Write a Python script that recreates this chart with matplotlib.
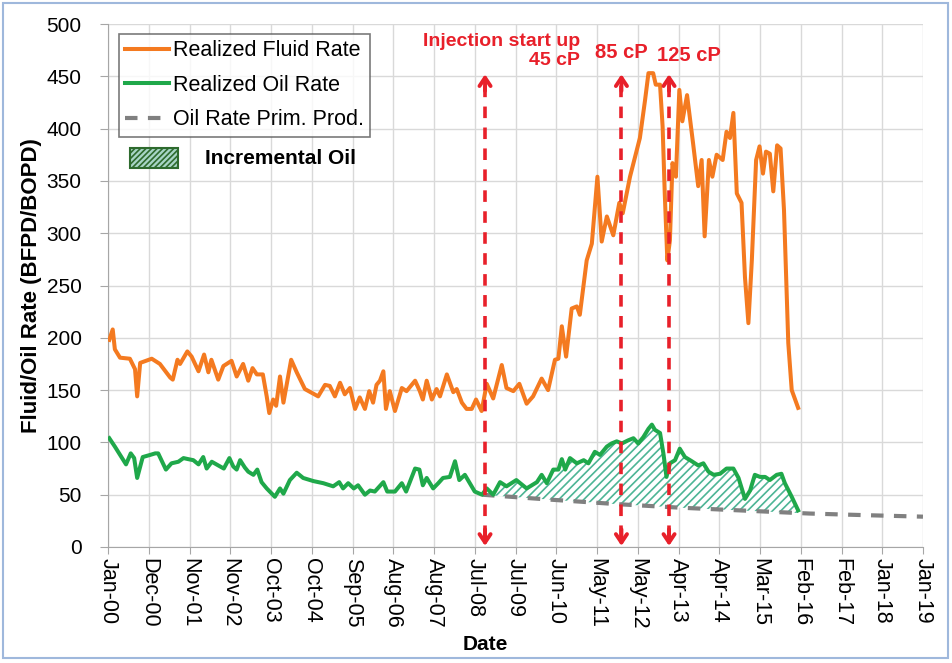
import datetime as dt

import numpy as np
import matplotlib

matplotlib.use("Agg")
import matplotlib.pyplot as plt
import matplotlib.dates as mdates
import matplotlib.patches as mpatches
from matplotlib.lines import Line2D

plt.rcParams["font.family"] = ["Liberation Sans", "DejaVu Sans"]
plt.rcParams["hatch.linewidth"] = 1.2

# decimal years / rates
fluid_t = [2000.03, 2000.11, 2000.16, 2000.28, 2000.51, 2000.63, 2000.68, 2000.75, 2001.02, 2001.21,
           2001.45, 2001.51, 2001.62, 2001.68, 2001.85, 2001.95, 2002.11, 2002.24, 2002.34, 2002.41,
           2002.57, 2002.69, 2002.88, 2003.00, 2003.15, 2003.27, 2003.37, 2003.47, 2003.61, 2003.70,
           2003.76, 2003.85, 2003.92, 2004.01, 2004.09, 2004.27, 2004.40, 2004.59, 2004.90, 2005.06,
           2005.17, 2005.29, 2005.41, 2005.52, 2005.64, 2005.76, 2005.87, 2005.99, 2006.09, 2006.18,
           2006.26, 2006.34, 2006.42, 2006.48, 2006.57, 2006.69, 2006.85, 2006.96, 2007.16, 2007.27,
           2007.34, 2007.43, 2007.55, 2007.66, 2007.74, 2007.90, 2008.05, 2008.13, 2008.25, 2008.36,
           2008.48, 2008.58, 2008.71, 2008.83, 2008.98, 2009.18, 2009.29, 2009.45, 2009.59, 2009.76,
           2009.91, 2010.11, 2010.26, 2010.42, 2010.50, 2010.58, 2010.68, 2010.81, 2010.93, 2011.00,
           2011.16, 2011.28, 2011.41, 2011.51, 2011.63, 2011.78, 2011.92, 2012.00, 2012.17, 2012.40,
           2012.52, 2012.60, 2012.71, 2012.77, 2012.87, 2012.93, 2012.98, 2013.04, 2013.10, 2013.16,
           2013.24, 2013.32, 2013.39, 2013.50, 2013.64, 2013.76, 2013.84, 2013.91, 2014.01, 2014.09,
           2014.19, 2014.33, 2014.42, 2014.50, 2014.58, 2014.66, 2014.77, 2014.85, 2014.93, 2015.01,
           2015.11, 2015.19, 2015.27, 2015.34, 2015.43, 2015.51, 2015.60, 2015.68, 2015.76, 2015.86,
           2015.94, 2016.09]
fluid_q = [198, 208, 189, 181, 180, 170, 144, 176, 180, 175,
           162, 160, 179, 175, 187, 182, 168, 184, 167, 179,
           160, 173, 178, 163, 175, 159, 171, 165, 165, 144,
           128, 141, 135, 163, 138, 179, 167, 151, 144, 155,
           154, 144, 157, 146, 152, 132, 143, 132, 149, 138,
           155, 159, 168, 132, 149, 130, 152, 149, 159, 149,
           141, 159, 141, 151, 144, 165, 148, 151, 138, 132,
           132, 141, 130, 156, 142, 174, 152, 149, 156, 137,
           144, 161, 150, 179, 180, 211, 182, 228, 230, 222,
           274, 290, 354, 292, 316, 298, 329, 319, 354, 391,
           427, 453, 453, 442, 442, 402, 338, 274, 293, 367,
           354, 437, 407, 432, 386, 345, 370, 297, 370, 354,
           375, 370, 397, 391, 415, 338, 329, 258, 214, 274,
           370, 383, 357, 378, 376, 340, 384, 381, 322, 195,
           150, 133]

oil_t = [2000.03, 2000.16, 2000.42, 2000.53, 2000.61, 2000.68, 2000.81, 2000.98, 2001.10, 2001.17,
         2001.35, 2001.48, 2001.64, 2001.76, 2001.87, 2001.99, 2002.11, 2002.22, 2002.30, 2002.42,
         2002.57, 2002.70, 2002.83, 2002.92, 2003.00, 2003.08, 2003.19, 2003.27, 2003.39, 2003.48,
         2003.58, 2003.70, 2003.89, 2004.01, 2004.09, 2004.24, 2004.40, 2004.55, 2004.79, 2005.02,
         2005.25, 2005.39, 2005.48, 2005.60, 2005.73, 2005.83, 2005.99, 2006.11, 2006.22, 2006.42,
         2006.51, 2006.69, 2006.85, 2006.95, 2007.16, 2007.26, 2007.34, 2007.43, 2007.58, 2007.70,
         2007.81, 2007.97, 2008.09, 2008.19, 2008.32, 2008.55, 2008.72, 2008.83, 2008.98, 2009.14,
         2009.29, 2009.52, 2009.76, 2010.00, 2010.11, 2010.23, 2010.38, 2010.50, 2010.58, 2010.66,
         2010.77, 2010.93, 2011.09, 2011.20, 2011.35, 2011.47, 2011.63, 2011.74, 2011.86, 2011.98,
         2012.13, 2012.25, 2012.36, 2012.48, 2012.60, 2012.68, 2012.75, 2012.87, 2012.95, 2013.02,
         2013.10, 2013.22, 2013.33, 2013.45, 2013.61, 2013.76, 2013.88, 2014.00, 2014.12, 2014.27,
         2014.42, 2014.58, 2014.70, 2014.85, 2014.97, 2015.08, 2015.20, 2015.32, 2015.43, 2015.59,
         2015.70, 2015.78, 2015.94, 2016.09]
oil_q = [104, 96, 79, 89.5, 85, 66, 86, 88, 89.5, 89.5,
         74, 80, 81.5, 85, 84, 83, 79, 86, 75, 81.5,
         78, 75, 85, 77, 74, 83, 76, 72, 69, 74,
         62, 56, 48, 56, 51, 64, 71, 66, 63, 61,
         58, 62, 56, 61, 56, 59, 50, 54, 53, 62,
         53, 53, 61, 53, 75, 74, 59, 66, 56, 61,
         66, 67, 82, 64, 69, 53, 50, 56, 50, 62,
         58, 64, 56, 62, 69, 61, 74, 74, 84, 74,
         85, 80, 83, 80, 91, 88, 96, 99, 101, 99,
         102, 104, 99, 105, 113, 117, 112, 109, 89, 67,
         80, 83, 94, 86, 82, 78, 80, 72, 69, 70,
         75, 75, 66, 46, 54, 69, 67, 67, 64, 69,
         70, 61, 48, 35]

prim_t = [2008.72, 2010.23, 2011.86, 2013.33, 2014.89, 2016.35, 2017.60, 2019.00]
prim_q = [50, 45.5, 41, 37.6, 34.7, 32, 30.5, 29]

event_t = [2008.79, 2011.97, 2013.08]
injection_start = 2008.72

n_ticks = 21
tick_step = 347  # days between Excel date ticks

RED = "#e8202a"
ORANGE = "#f47a20"
GREEN = "#1fa84a"
GRAY = "#808080"
HATCH = "#4db595"


def to_num(years):
    base = mdates.date2num(dt.datetime(2000, 1, 1))
    return base + (np.asarray(years, dtype=float) - 2000.0) * 365.25


fig = plt.figure(figsize=(9.52, 6.63), dpi=100)
ax = fig.add_axes([108 / 952, 1 - 547 / 663, 815 / 952, 523 / 663])

fx = to_num(fluid_t)
ox = to_num(oil_t)
px = to_num(prim_t)
oq = np.asarray(oil_q, dtype=float)

# incremental oil between realized oil and primary decline
mask = np.asarray(oil_t) >= injection_start
base_line = np.interp(ox[mask], px, prim_q)
ax.fill_between(ox[mask], base_line, oq[mask], where=oq[mask] >= base_line,
                interpolate=True, facecolor="white", edgecolor=HATCH, hatch="////",
                linewidth=0, zorder=2)

ax.plot(fx, fluid_q, color=ORANGE, lw=2.9, zorder=4, solid_joinstyle="round")
ax.plot(ox, oil_q, color=GREEN, lw=2.9, zorder=4, solid_joinstyle="round")
ax.plot(px, prim_q, color=GRAY, lw=3, ls=(0, (3, 2.5)), zorder=3)

# event arrows
for t in to_num(event_t):
    ax.plot([t, t], [10, 442], color=RED, lw=2.6, ls=(0, (3.2, 2.6)), zorder=5)
    ax.annotate("", xy=(t, 452), xytext=(t, 436),
                arrowprops=dict(arrowstyle="->,head_width=0.4,head_length=0.6",
                                color=RED, lw=2.8, shrinkA=0, shrinkB=0), zorder=5)
    ax.annotate("", xy=(t, 1), xytext=(t, 17),
                arrowprops=dict(arrowstyle="->,head_width=0.4,head_length=0.6",
                                color=RED, lw=2.8, shrinkA=0, shrinkB=0), zorder=5)

ax.text(to_num(2011.0), 474, "Injection start up\n45 cP", ha="right", va="center",
        ma="right", color=RED, fontsize=14, fontweight="bold", linespacing=1.15)
ax.text(to_num(2011.98), 473, "85 cP", ha="center", va="center", color=RED,
        fontsize=14.5, fontweight="bold")
ax.text(to_num(2013.54), 470, "125 cP", ha="center", va="center", color=RED,
        fontsize=14.5, fontweight="bold")

# axes
x0 = to_num(2000.0)
ticks = x0 + tick_step * np.arange(n_ticks)
ax.set_xlim(ticks[0], ticks[-1])
ax.set_ylim(0, 500)
ax.set_xticks(ticks)
ax.xaxis.set_major_formatter(mdates.DateFormatter("%b-%y"))
ax.set_yticks(np.arange(0, 501, 50))
ax.tick_params(axis="x", labelsize=15.5, rotation=-90, length=5, color="#a6a6a6", pad=3)
ax.tick_params(axis="y", labelsize=15, length=6, color="#a6a6a6", pad=13)
for lab in ax.get_xticklabels():
    lab.set_va("top")
    lab.set_ha("center")
ax.grid(color="#d9d9d9", lw=1)
ax.set_axisbelow(True)
for side in ("top", "right"):
    ax.spines[side].set_visible(False)
for side in ("left", "bottom"):
    ax.spines[side].set_color("#a6a6a6")

ax.set_ylabel("Fluid/Oil Rate (BFPD/BOPD)", fontsize=16, fontweight="bold")
ax.yaxis.set_label_coords(-(108 - 42) / 815, 0.5)
ax.set_xlabel("Date", fontsize=15, fontweight="bold")
ax.xaxis.set_label_coords((485 - 108) / 815, -(635 - 547) / 523)

handles = [
    Line2D([], [], color=ORANGE, lw=2.9),
    Line2D([], [], color=GREEN, lw=2.9),
    Line2D([], [], color=GRAY, lw=3, ls=(0, (3, 2.5))),
]
labels = ["Realized Fluid Rate", "Realized Oil Rate", "Oil Rate Prim. Prod."]
leg = ax.legend(handles, labels, loc="upper left", bbox_to_anchor=(119 / 952, 1 - 34 / 663),
                bbox_transform=fig.transFigure, fontsize=15.5, frameon=True, fancybox=False,
                edgecolor="#595959", handlelength=2.0, handletextpad=0.2,
                labelspacing=0.62, borderpad=0.3, borderaxespad=0)
leg.get_frame().set_linewidth(1.2)
leg.set_zorder(6)

patch = mpatches.Rectangle((130 / 952, 1 - 168 / 663), 48 / 952, 20 / 663,
                           transform=fig.transFigure, facecolor="#a8d5c6", edgecolor="#2e6b2e",
                           hatch="//////", lw=1.5, zorder=7)
fig.add_artist(patch)
fig.text(205 / 952, 1 - 158 / 663, "Incremental Oil", fontsize=15, fontweight="bold",
         va="center", ha="left", zorder=7)

border = mpatches.Rectangle((3 / 952, 5 / 663), 945 / 952, 655 / 663, transform=fig.transFigure,
                            fill=False, edgecolor="#9fb8dc", lw=1.5)
fig.add_artist(border)

fig.savefig("out.png", dpi=100)
